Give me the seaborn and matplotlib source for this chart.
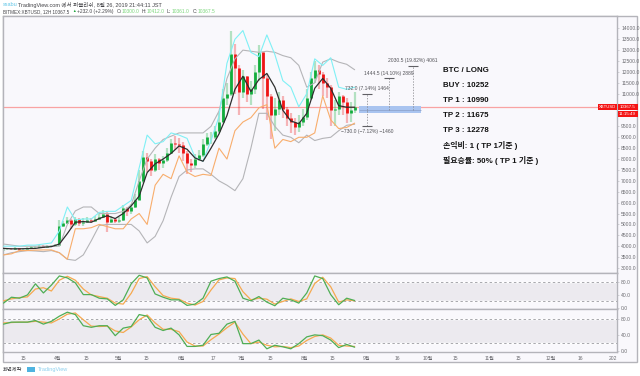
import pandas as pd
import numpy as np
import matplotlib.pyplot as plt
from matplotlib.patches import Rectangle
import seaborn as sns

closes = [3850,3880,3870,3900,3860,3880,3900,3950,3960,3990,
          3970,4000,4020,4050,4950,5050,5200,5000,5250,5050,
          5100,5200,5150,5250,5350,5500,5100,5250,5150,5200,
          5750,5600,5800,6100,7000,8100,7900,7500,8000,7800,
          7950,8300,8750,8700,8650,8300,7800,7750,8000,8200,
          8700,9000,9000,9300,9700,10800,11000,12800,12200,11100,
          11800,11000,11200,12000,12900,11700,10900,10000,10300,10700,
          10300,9900,9700,9450,9700,9950,10800,11700,12100,11900,
          11500,11300,10250,10300,10900,10600,10100,10250,10367]
highs = [3920,3920,3920,3950,3930,3920,3950,3990,4000,4040,
         4040,4050,4070,4120,5200,5150,5350,5250,5350,5300,
         5300,5350,5300,5400,5500,5650,5560,5400,5300,5350,
         5900,5800,5950,6400,7500,8350,8300,8000,8250,8050,
         8150,8500,8900,9050,8950,8800,8350,8000,8250,8400,
         8900,9200,9250,9500,10100,11200,11500,13900,13300,12300,
         12100,11800,11600,12300,13250,12900,11900,11000,10800,11100,
         10900,10400,10100,9900,10000,10300,11200,12000,12500,12300,
         12000,11700,11400,10700,11100,10950,10800,10600,11100]
lows = [3800,3820,3810,3830,3800,3830,3860,3890,3910,3930,
        3900,3950,3980,3990,4000,4900,5000,4800,4950,4950,
        4950,5050,5050,5100,5200,5300,4650,5050,5050,5050,
        5150,5400,5500,5750,6100,6900,7400,7200,7400,7500,
        7600,7850,8250,8400,8300,7900,7300,7400,7600,7900,
        8100,8600,8700,8900,9200,9700,10500,10900,11000,10000,
        10800,10600,10500,11000,11600,10300,9800,8900,9300,10000,
        9900,9500,9200,9100,9250,9500,9800,10700,11500,11200,
        10900,10800,9500,9500,10000,10000,9650,9700,10100]

upper_fast = [4000,4000,4000,4050,4050,4100,4150,4700,5800,5200,5250,5250,5550,5600,5600,
              5850,6100,7600,9100,8700,8800,9200,9100,8950,8080,7900,8850,9950,12400,13500,
              13900,12900,12700,13700,12800,11600,11300,10400,11000,12600,12300,12650,11300,11200,11300]
lower_fast = [3600,3650,3800,3800,3820,3830,3830,3700,3400,4800,4800,4850,5000,4900,4800,
              4800,5250,5500,5000,6800,7300,7100,8150,7400,7200,7300,7250,8500,8000,9300,
              9700,9900,10350,10500,8500,8900,8800,9000,9000,9200,10900,9800,9400,9450,9650]
upper_slow = [4100,4050,4000,4000,4000,4000,4000,4000,5000,5620,5800,5800,5500,5500,5500,
              5600,5900,7000,8000,8500,8900,9050,9200,9200,9200,9200,9500,10200,11700,12600,
              13000,12950,12900,12950,12900,12750,12650,12300,11300,11500,12450,12600,12450,12350,12100]
lower_slow = [3600,3700,3750,3800,3780,3750,3800,3700,3400,3350,3600,4250,4950,5000,5000,
              5000,5000,4700,4150,4450,5170,6250,7200,7500,7550,7550,7300,7000,6800,6550,
              7100,8500,10100,10100,9500,9100,9000,8750,9100,8850,8950,9000,9300,9550,9600]
ma_line = [3900,3880,3880,3890,3900,3950,3980,4100,4580,5100,5130,5100,5270,5400,5270,
           5500,5850,6300,7380,7780,8000,8260,8600,8450,8050,7900,8500,9150,10000,11200,
           11800,11100,11650,11930,11300,10240,9750,9620,10100,11250,11700,11250,10450,10380,10380]

osc1_k = [15,33,30,40,74,46,70,98,92,77,41,41,30,28,8,25,74,100,92,43,33,25,25,8,12,
          30,82,90,95,82,30,22,35,18,7,30,25,15,46,98,90,41,10,30,23]
osc1_d = [22,28,32,34,58,62,52,85,97,85,58,40,35,30,15,12,45,90,96,65,38,30,27,15,9,
          20,55,86,92,90,50,25,30,27,12,20,28,20,28,75,94,65,18,25,22]
osc2_k = [67,72,72,72,76,67,74,87,97,91,63,59,63,63,38,57,61,91,87,59,51,57,40,11,11,
          14,41,44,67,74,18,18,27,5,14,10,5,18,35,40,38,27,8,16,9]
osc2_d = [70,71,72,72,74,72,70,80,92,95,78,62,61,62,50,46,60,78,90,70,54,54,48,22,12,
          12,28,42,58,72,42,18,22,14,10,11,8,12,26,36,40,32,14,12,11]

tick_dates = ['2019-03-15','2019-04-01','2019-04-15','2019-05-01','2019-05-15','2019-06-01','2019-06-17',
              '2019-07-01','2019-07-15','2019-08-01','2019-08-15','2019-09-01','2019-09-16','2019-10-01',
              '2019-10-15','2019-11-01','2019-11-15','2019-12-01','2019-12-16','2020-01-01']
tick_names = ['15','4월','15','5월','15','6월','17','7월','15','8월','15','9월','16','10월','15','11월','15','12월','16','202']

targets = [10990, 11700, 12280]
target_dates = ['2019-09-01','2019-09-12','2019-09-24']
target_labels = ['732.0 (7.14%) 1464', '1444.5 (14.10%) 2889', '2030.5 (19.82%) 4061']
stop_price = 9520
stop_label = '−730.0 (−7.12%) −1460'
last_price = 10367.5

plan_lines = ['BTC / LONG', 'BUY : 10252', 'TP 1 : 10990', 'TP 2 : 11675', 'TP 3 : 12278',
              '손익비: 1 ( TP 1기준 )', '필요승률: 50% ( TP 1 기준 )']

sns.set_theme(style='white')
plt.rcParams['font.family'] = ['Liberation Sans', 'Noto Sans CJK KR', 'DejaVu Sans']

W, H = 640, 376
BG = '#f9f8fc'
EDGE = '#b4b4ba'
GREY_TXT = '#6b6b70'

fig = plt.figure(figsize=(W/100, H/100), dpi=100)

def px_axes(left, top, right, bottom):
    a = fig.add_axes([left/W, 1-bottom/H, (right-left)/W, (bottom-top)/H])
    a.set_facecolor(BG)
    for s in a.spines.values():
        s.set_color(EDGE)
        s.set_linewidth(1.0)
    return a

def label(px, py, s, **kw):
    kw.setdefault('fontsize', 3.5)
    kw.setdefault('color', '#444448')
    kw.setdefault('va', 'center')
    return fig.text(px/W, 1-py/H, s, **kw)

def box(left, top, right, bottom, **kw):
    r = Rectangle((left/W, 1-bottom/H), (right-left)/W, (bottom-top)/H, transform=fig.transFigure, **kw)
    fig.patches.append(r)
    return r

box(3, 16, 637, 362, facecolor=BG, edgecolor=EDGE, lw=1.0, zorder=-1)

ax = px_axes(3, 16, 617, 273)
ax1 = px_axes(3, 273, 617, 309)
ax2 = px_axes(3, 309, 617, 352)

x_left = pd.Timestamp('2019-03-04 18:00')
x_right = pd.Timestamp('2020-01-03')
bars = pd.DataFrame({'date': pd.date_range('2019-03-05', '2019-08-26', periods=len(closes)),
                     'close': closes, 'high': highs, 'low': lows})
bars['open'] = bars['close'].shift(1).fillna(bars['close'])
line_dates = pd.date_range('2019-03-05', '2019-08-26', periods=len(ma_line))

# candles
up = bars[bars['close'] >= bars['open']]
down = bars[bars['close'] < bars['open']]
for part, col in [(up, '#12ad3c'), (down, '#ee1414')]:
    ax.vlines(part['date'], part['low'], part['high'], color=col, lw=1.6, alpha=0.3, zorder=2)
    ax.vlines(part['date'], part['open'], part['close'], color=col, lw=2.0, zorder=3)

for vals, col, lw in [(upper_slow, '#b5b5b8', 0.8), (lower_slow, '#b5b5b8', 0.8),
                      (upper_fast, '#7ff0f5', 0.8), (lower_fast, '#f8ad6c', 0.8),
                      (ma_line, '#2e2e2e', 0.9)]:
    sns.lineplot(x=line_dates, y=vals, ax=ax, color=col, lw=lw, errorbar=None, zorder=4)

ax.axhline(last_price, color='#f9a3a3', lw=0.9, zorder=1)

# position tool
ax.add_patch(Rectangle((pd.Timestamp('2019-08-28'), 10100), pd.Timedelta(days=31), 330,
                       facecolor='#a9c4f0', edgecolor='none', zorder=5))
ax.hlines(10252, pd.Timestamp('2019-08-28'), pd.Timestamp('2019-09-28'), color='#8a9fc8', lw=0.5, zorder=6)
for d, p, t in zip(target_dates, targets, target_labels):
    d = pd.Timestamp(d)
    ax.vlines(d, 10252, p, color='#808085', lw=0.5, ls=(0, (2, 2)), zorder=6)
    ax.hlines(p, d-pd.Timedelta(days=2.5), d+pd.Timedelta(days=2.5), color='#606065', lw=0.8, zorder=6)
    ax.text(d, p+130, t, fontsize=3.6, color='#55555a', ha='center', va='bottom', zorder=7)
stop_day = pd.Timestamp(target_dates[0])
ax.vlines(stop_day, stop_price, 10252, color='#808085', lw=0.5, ls=(0, (2, 2)), zorder=6)
ax.hlines(stop_price, stop_day-pd.Timedelta(days=2.5), stop_day+pd.Timedelta(days=2.5), color='#606065', lw=0.8, zorder=6)
ax.text(stop_day, stop_price-130, stop_label, fontsize=3.6, color='#55555a', ha='center', va='top', zorder=7)

# 10000 and 10500 sit under the price tags in the picture
price_ticks = np.arange(3000, 14001, 500)
ax.set_ylim(2770, 14567)
ax.set_yticks(price_ticks)
ax.set_yticklabels(['' if v in (10000, 10500) else '%.1f' % v for v in price_ticks])

for a, k, d, lims, ticks in [(ax1, osc1_k, osc1_d, (-3, 107), [0, 40, 80]),
                             (ax2, osc2_k, osc2_d, (-3, 105), [0, 40, 80])]:
    a.axhspan(20, 80, facecolor='#eceaef', zorder=0)
    for lev in (20, 80):
        a.axhline(lev, color='#a8a8ad', lw=0.7, ls=(0, (2.5, 2.5)), zorder=1)
    sns.lineplot(x=line_dates, y=d, ax=a, color='#f6a94f', lw=0.9, errorbar=None, zorder=3)
    sns.lineplot(x=line_dates, y=k, ax=a, color='#4fae55', lw=0.9, errorbar=None, zorder=4)
    a.set_ylim(*lims)
    a.set_yticks(ticks)
    a.set_yticklabels(['%.1f' % v for v in ticks])

for a in (ax, ax1, ax2):
    a.set_xlim(x_left, x_right)
    a.set_xlabel('')
    a.set_ylabel('')
    a.yaxis.tick_right()
    a.tick_params(axis='y', length=1.5, width=0.4, color=EDGE, labelsize=3.6, labelcolor=GREY_TXT, pad=1.5, right=True)
    a.set_xticks([pd.Timestamp(t) for t in tick_dates])
    a.tick_params(axis='x', length=0, labelbottom=False)
ax2.tick_params(axis='x', length=1, width=0.4, color=EDGE, labelbottom=True, labelsize=3.6, labelcolor=GREY_TXT, pad=2)
ax2.set_xticklabels(tick_names)

# header
label(3, 5, 'ssabu', color='#63c7e8', fontsize=4.0)
label(18, 5, 'TradingView.com 에서 퍼블리쉬, 8월 26, 2019 21:44:11 JST', fontsize=4.0)
label(3, 11.5, 'BITMEX:XBTUSD, 12H 10367.5', fontsize=3.3)
label(72.5, 11.5, '▲', color='#1aa33a', fontsize=2.6)
label(77, 11.5, '+232.0 (+2.29%)')
for px, key, val in [(117, 'O:', '10300.0'), (142, 'H:', '10412.0'), (167, 'L:', '10361.0'), (193, 'C:', '10367.5')]:
    label(px, 11.5, key)
    label(px+5, 11.5, val, color='#7bd67b')

# price tags
box(598, 103.5, 617, 110, facecolor='#f41414', edgecolor='none', zorder=8)
box(617.5, 103.5, 638, 110, facecolor='#f41414', edgecolor='none', zorder=8)
box(617.5, 110.5, 638, 117, facecolor='#f41414', edgecolor='none', zorder=8)
label(607.5, 106.7, 'XBTUSD', color='white', fontsize=3.0, ha='center', zorder=9)
label(627.5, 106.7, '10367.5', color='white', fontsize=3.2, ha='center', zorder=9)
label(627.5, 113.7, '11:15:49', color='white', fontsize=3.2, ha='center', zorder=9)

# trade plan
for py, s in zip([70, 85.5, 100.5, 115.5, 130.5, 145.5, 160.5], plan_lines):
    label(443, py, s, fontsize=5.7, color='#111111', fontweight='bold')

# footer
label(3, 369, '화면제작', fontsize=3.8)
label(38, 369, 'TradingView', fontsize=4.0, color='#8fd0ee')
box(27, 367, 35, 372, facecolor='#4fb3e0', edgecolor='none')

fig.savefig('out.png', dpi=100, facecolor='white')
